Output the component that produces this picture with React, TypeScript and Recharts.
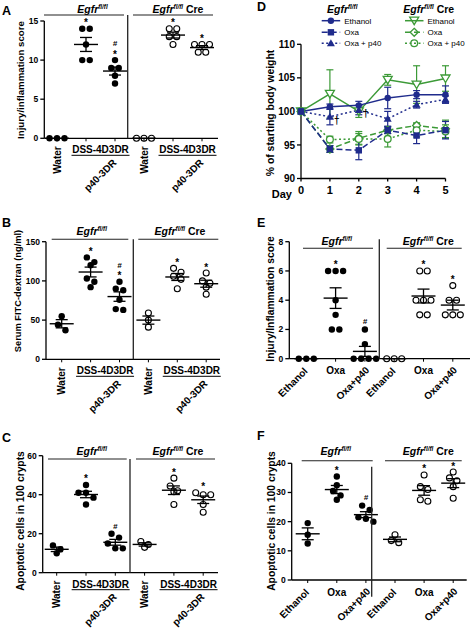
import React from 'react';
import {
  ScatterChart,
  Scatter,
  XAxis,
  YAxis,
  ErrorBar,
  ComposedChart,
  Line,
  LabelList,
} from 'recharts';

const FONT = '"Liberation Sans", Arial, Helvetica, sans-serif';
const INK = '#000';
const NAVY = '#1f2b8c';
const GREEN = '#3c9a37';

// ---------------- Panel A: injury score, DSS ----------------
const aFlWater = [0, 0, 0];
const aFlDss = [14, 14, 12, 10, 10];
const aFlP40 = [10, 9, 9, 8, 7];
const aCreWater = [0, 0, 0];
const aCreDss = [14, 14, 13, 13, 12];
const aCreP40 = [12, 12, 12, 11, 11];
const aMarks = [[], ['*'], ['*', '#'], [], ['*'], ['*']];
const aTicks = [0, 5, 10, 15];

// ---------------- Panel B: FITC-dextran ----------------
const bFlWater = [55, 44, 37];
const bFlDss = [130, 124, 120, 103, 99, 92];
const bFlP40 = [99, 90, 88, 76, 63, 64];
const bCreWater = [59, 50, 41];
const bCreDss = [116, 111, 106, 102, 90];
const bCreP40 = [110, 100, 97, 92, 83];
const bMarks = [[], ['*'], ['*', '#'], [], ['*'], ['*']];
const bTicks = [0, 50, 100, 150];

// ---------------- Panel C: apoptosis, DSS ----------------
const cFlWater = [14, 12, 10];
const cFlDss = [45, 41, 41, 38.5, 35];
const cFlP40 = [20, 18, 15, 12.5, 12.5];
const cCreWater = [16, 13, 14.5];
const cCreDss = [48.5, 44.5, 42, 41.5, 35];
const cCreP40 = [40, 41, 40, 35, 31];
const cMarks = [[], ['*'], ['#'], [], ['*'], ['*']];
const cTicks = [0, 20, 40, 60];

// ---------------- Panel D: body weight ----------------
const days = [0, 1, 2, 3, 4, 5];
const flEth = [100, 100.7, 100.9, 102, 102.5, 102.5];
const flEthErr = [0, 0.4, 0.6, 1.6, 0.6, 1.3];
const flOxa = [100, 94.4, 94.2, 97.2, 96.4, 97.2];
const flOxaErr = [0, 0.5, 1.4, 0.5, 1.2, 1.3];
const flOxaP40 = [100, 99.2, 100.2, 98.9, 101, 101.8];
const flOxaP40Err = [0, 1.2, 0.7, 1.1, 0.5, 0.5];
const creEth = [100, 102.6, 100, 104.7, 104, 104.9];
const creEthErr = [0, 3.6, 0.9, 0.8, 2.8, 1.9];
const creOxa = [100, 94.4, 96, 97.2, 97.9, 97.4];
const creOxaErr = [0, 0.5, 1.0, 0.5, 0.4, 1.3];
const creOxaP40 = [100, 95.8, 95.9, 95.9, 97.2, 97];
const creOxaP40Err = [0, 0.5, 0.8, 1.2, 1.0, 1.0];
const daggers = ['', '†', '†', '', '', ''];
const dTicks = [90, 95, 100, 105, 110];
const legendNames = ['Ethanol', 'Oxa', 'Oxa + p40'];

// ---------------- Panel E: injury score, Oxa ----------------
const eFlEth = [0, 0, 0];
const eFlOxa = [6, 6, 6, 4, 3, 2, 2];
const eFlOxaP40 = [2, 1, 0, 0, 0, 0];
const eCreEth = [0, 0, 0];
const eCreOxa = [6, 6, 4, 4, 4, 3, 3];
const eCreOxaP40 = [5, 4, 4, 3, 3, 3];
const eMarks = [[], ['*'], ['#'], [], ['*'], ['*']];
const eTicks = [0, 2, 4, 6, 8];

// ---------------- Panel F: apoptosis, Oxa ----------------
const fFlEth = [19.5, 15.5, 12.5];
const fFlOxa = [35.5, 32.5, 30.5, 29, 27.5];
const fFlOxaP40 = [25.5, 24, 21.5, 20, 21];
const fCreEth = [15.5, 13.5, 12.8];
const fCreOxa = [36, 32, 31, 27, 27.5];
const fCreOxaP40 = [37, 35, 34, 32, 28];
const fMarks = [[], ['*'], ['#'], [], ['*'], ['*']];
const fTicks = [0, 10, 20, 30, 40];

const dssLabels = ['Water', 'DSS-4D3DR', 'p40-3DR'];
const oxaLabels = ['Ethanol', 'Oxa', 'Oxa+p40'];
const groupTicks = [0, 1, 2, 3, 4, 5];

// ---------------- helpers ----------------
function layoutDots(groups: number[][], pxPerUnit: number, pxPerGroup: number) {
  const out: any[] = [];
  groups.forEach((vals, g) => {
    const sorted = [...vals].sort((a, b) => b - a);
    const clusters: number[][] = [];
    sorted.forEach((v) => {
      const last = clusters[clusters.length - 1];
      if (last && Math.abs(last[0] - v) * pxPerUnit < 5.5) last.push(v);
      else clusters.push([v]);
    });
    clusters.forEach((c) =>
      c.forEach((v, k) => {
        const off = ((k - (c.length - 1) / 2) * 7.5) / pxPerGroup;
        out.push({ x: g + off, y: v, open: g >= 3 });
      })
    );
  });
  return out;
}

function groupStats(groups: number[][]) {
  return groups.map((vals, g) => {
    const n = vals.length;
    const m = vals.reduce((s, v) => s + v, 0) / n;
    const sd = Math.sqrt(vals.reduce((s, v) => s + (v - m) * (v - m), 0) / (n - 1));
    return { x: g, y: m, err: sd / Math.sqrt(n) };
  });
}

const DotShape = (p: any) => {
  const { cx, cy, payload } = p;
  if (payload.open)
    return <circle cx={cx} cy={cy} r={3} fill="none" stroke={INK} strokeWidth={1.1} />;
  return <circle cx={cx} cy={cy} r={3.2} fill={INK} />;
};

const MeanShape = (p: any) => {
  const { cx, cy } = p;
  return <line x1={cx - 12} x2={cx + 12} y1={cy} y2={cy} stroke={INK} strokeWidth={1.4} />;
};

const AnnShape = (p: any) => {
  const { cx, cy, payload } = p;
  return (
    <g>
      {payload.marks.map((m: string, i: number) => {
        const c = 8 + 8.5 * i;
        const star = m === '*';
        return (
          <text
            key={i}
            x={cx}
            y={cy - c + (star ? 5.5 : 2.8)}
            textAnchor="middle"
            fontFamily={FONT}
            fontWeight={700}
            fontSize={star ? 10 : 8}
            fontStyle={star ? 'normal' : 'italic'}
            style={{ fill: INK }}
          >
            {m}
          </text>
        );
      })}
    </g>
  );
};

const lblStyle = { fontFamily: FONT, fontWeight: 700, fontSize: 10, fill: INK };

const DssTick = (props: any) => {
  const { x, y, payload, sp } = props;
  const y0 = y - 3;
  const i = Math.round(payload.value) % 3;
  if (i === 0)
    return (
      <text transform={`translate(${x + 3.5},${y0 + 8}) rotate(-90)`} textAnchor="end" style={lblStyle}>
        {dssLabels[0]}
      </text>
    );
  if (i === 1) {
    const cx = x + sp / 2;
    return (
      <g>
        <text x={cx} y={y0 + 15} textAnchor="middle" style={lblStyle}>
          {dssLabels[1]}
        </text>
        <line x1={cx - 29} x2={cx + 29} y1={y0 + 17} y2={y0 + 17} stroke={INK} strokeWidth={1} />
      </g>
    );
  }
  return (
    <text transform={`translate(${x + 2},${y0 + 25}) rotate(-45)`} textAnchor="end" style={lblStyle}>
      {dssLabels[2]}
    </text>
  );
};

const OxaTick = (props: any) => {
  const { x, y, payload } = props;
  const y0 = y - 3;
  const i = Math.round(payload.value) % 3;
  if (i === 1)
    return (
      <text x={x} y={y0 + 15.5} textAnchor="middle" style={lblStyle}>
        {oxaLabels[1]}
      </text>
    );
  const dx = i === 0 ? 2 : 5;
  const dy = i === 0 ? 13 : 12;
  return (
    <text transform={`translate(${x + dx},${y0 + dy}) rotate(-45)`} textAnchor="end" style={lblStyle}>
      {oxaLabels[i]}
    </text>
  );
};

type Box = { left: number; top: number; width: number; height: number };
type Plot = { left: number; right: number; top: number; bottom: number };
type DotCfg = {
  box: Box;
  plot: Plot;
  yDomain: [number, number];
  yTicks: number[];
  g0: number;
  dx: number;
  groups: number[][];
  marks: string[][];
  kind: 'dss' | 'oxa';
};

function DotPanel({ cfg }: { cfg: DotCfg }) {
  const { box, plot, yDomain, yTicks, g0, dx, groups, marks, kind } = cfg;
  const pxPerUnit = (plot.bottom - plot.top) / (yDomain[1] - yDomain[0]);
  const dots = layoutDots(groups, pxPerUnit, dx);
  const means = groupStats(groups);
  const ann = groups
    .map((v, g) => ({ x: g, y: Math.max(...v), marks: marks[g] }))
    .filter((a) => a.marks.length > 0);
  const xDomain: [number, number] = [(plot.left - g0) / dx, (plot.right - g0) / dx];
  return (
    <div style={{ position: 'absolute', left: box.left, top: box.top }}>
      <ScatterChart
        width={box.width}
        height={box.height}
        margin={{ top: plot.top - box.top, right: box.left + box.width - plot.right, bottom: 0, left: 0 }}
      >
        <XAxis
          type="number"
          dataKey="x"
          domain={xDomain}
          ticks={groupTicks}
          interval={0}
          height={box.top + box.height - plot.bottom}
          tickSize={3}
          tickMargin={0}
          axisLine={{ stroke: INK, strokeWidth: 1.3 }}
          tickLine={{ stroke: INK, strokeWidth: 1 }}
          tick={kind === 'dss' ? <DssTick sp={dx} /> : <OxaTick />}
        />
        <YAxis
          type="number"
          dataKey="y"
          domain={yDomain}
          ticks={yTicks}
          interval={0}
          width={plot.left - box.left}
          tickSize={4}
          tickMargin={2}
          axisLine={{ stroke: INK, strokeWidth: 1.3 }}
          tickLine={{ stroke: INK, strokeWidth: 1.3 }}
          tick={{ fontSize: 8.5, fontWeight: 700, fill: INK, fontFamily: FONT }}
        />
        <Scatter data={dots} shape={DotShape} isAnimationActive={false} />
        <Scatter data={means} shape={MeanShape} isAnimationActive={false}>
          <ErrorBar dataKey="err" direction="y" width={6} stroke={INK} strokeWidth={1.3} />
        </Scatter>
        <Scatter data={ann} shape={AnnShape} isAnimationActive={false} />
      </ScatterChart>
    </div>
  );
}

const panelA: DotCfg = {
  box: { left: 0, top: 0, width: 236, height: 205 },
  plot: { left: 44.3, right: 218, top: 21, bottom: 138.3 },
  yDomain: [0, 15],
  yTicks: aTicks,
  g0: 57,
  dx: 29,
  groups: [aFlWater, aFlDss, aFlP40, aCreWater, aCreDss, aCreP40],
  marks: aMarks,
  kind: 'dss',
};
const panelB: DotCfg = {
  box: { left: 0, top: 205, width: 236, height: 215 },
  plot: { left: 46, right: 220, top: 241.7, bottom: 359.3 },
  yDomain: [0, 150],
  yTicks: bTicks,
  g0: 61.7,
  dx: 28.9,
  groups: [bFlWater, bFlDss, bFlP40, bCreWater, bCreDss, bCreP40],
  marks: bMarks,
  kind: 'dss',
};
const panelC: DotCfg = {
  box: { left: 0, top: 420, width: 236, height: 209 },
  plot: { left: 42.7, right: 218, top: 455.7, bottom: 572.7 },
  yDomain: [0, 60],
  yTicks: cTicks,
  g0: 56.7,
  dx: 29.3,
  groups: [cFlWater, cFlDss, cFlP40, cCreWater, cCreDss, cCreP40],
  marks: cMarks,
  kind: 'dss',
};
const panelE: DotCfg = {
  box: { left: 236, top: 205, width: 237, height: 215 },
  plot: { left: 289.3, right: 470, top: 241.7, bottom: 358.7 },
  yDomain: [0, 8],
  yTicks: eTicks,
  g0: 306.3,
  dx: 29.3,
  groups: [eFlEth, eFlOxa, eFlOxaP40, eCreEth, eCreOxa, eCreOxaP40],
  marks: eMarks,
  kind: 'oxa',
};
const panelF: DotCfg = {
  box: { left: 236, top: 420, width: 237, height: 209 },
  plot: { left: 291.7, right: 466.7, top: 463.3, bottom: 580 },
  yDomain: [0, 40],
  yTicks: fTicks,
  g0: 307.7,
  dx: 29.1,
  groups: [fFlEth, fFlOxa, fFlOxaP40, fCreEth, fCreOxa, fCreOxaP40],
  marks: fMarks,
  kind: 'oxa',
};

// ---------------- Panel D chart ----------------
function Marker({ kind, color, cx, cy, fill }: any) {
  switch (kind) {
    case 'circle':
      return <circle cx={cx} cy={cy} r={3.2} fill={color} />;
    case 'square':
      return <rect x={cx - 3.2} y={cy - 3.2} width={6.4} height={6.4} fill={color} />;
    case 'triUp':
      return <polygon points={`${cx},${cy - 4} ${cx - 4},${cy + 3} ${cx + 4},${cy + 3}`} fill={color} />;
    case 'triDown':
      return (
        <polygon
          points={`${cx - 4.5},${cy - 3.5} ${cx + 4.5},${cy - 3.5} ${cx},${cy + 4}`}
          fill={fill}
          stroke={color}
          strokeWidth={1.3}
        />
      );
    case 'diamond':
      return (
        <polygon
          points={`${cx},${cy - 4} ${cx + 4},${cy} ${cx},${cy + 4} ${cx - 4},${cy}`}
          fill={fill}
          stroke={color}
          strokeWidth={1.3}
        />
      );
    default:
      return <circle cx={cx} cy={cy} r={3.4} fill={fill} stroke={color} strokeWidth={1.3} />;
  }
}

const dSeries = [
  { key: 'creEth', color: GREEN, dash: undefined, kind: 'triDown' },
  { key: 'creOxa', color: GREEN, dash: '6 3', kind: 'diamond' },
  { key: 'creOxaP40', color: GREEN, dash: '2 2.5', kind: 'openCircle' },
  { key: 'flEth', color: NAVY, dash: undefined, kind: 'circle' },
  { key: 'flOxa', color: NAVY, dash: '6 3', kind: 'square' },
  { key: 'flOxaP40', color: NAVY, dash: '2 2.5', kind: 'triUp' },
];

const dTable = days.map((d, i) => ({
  day: d,
  flEth: flEth[i],
  flEthE: flEthErr[i],
  flOxa: flOxa[i],
  flOxaE: flOxaErr[i],
  flOxaP40: flOxaP40[i],
  flOxaP40E: flOxaP40Err[i],
  creEth: creEth[i],
  creEthE: creEthErr[i],
  creOxa: creOxa[i],
  creOxaE: creOxaErr[i],
  creOxaP40: creOxaP40[i],
  creOxaP40E: creOxaP40Err[i],
  dag: daggers[i],
}));

const DaggerLabel = (p: any) => {
  const { x, y, value } = p;
  if (!value) return null;
  return (
    <text
      x={x + 7}
      y={y + 7}
      textAnchor="middle"
      fontFamily={FONT}
      fontWeight={700}
      fontSize={10}
      style={{ fill: INK, stroke: 'none' }}
    >
      {value}
    </text>
  );
};

function PanelD() {
  return (
    <div style={{ position: 'absolute', left: 240, top: 0 }}>
      <ComposedChart
        width={233}
        height={205}
        data={dTable}
        margin={{ top: 44.3, right: 473 - 445.5, bottom: 0, left: 0 }}
      >
        <XAxis
          type="number"
          dataKey="day"
          domain={[0, 5]}
          ticks={days}
          interval={0}
          height={205 - 178.5}
          tickSize={3}
          tickMargin={5}
          axisLine={{ stroke: INK, strokeWidth: 1.3 }}
          tickLine={{ stroke: INK, strokeWidth: 1.3 }}
          tick={{ fontSize: 11, fontWeight: 700, fill: INK, fontFamily: FONT }}
        />
        <YAxis
          type="number"
          domain={[90, 110]}
          ticks={dTicks}
          interval={0}
          width={61}
          tickSize={4}
          tickMargin={2}
          axisLine={{ stroke: INK, strokeWidth: 1.3 }}
          tickLine={{ stroke: INK, strokeWidth: 1.3 }}
          tick={{ fontSize: 10, fontWeight: 700, fill: INK, fontFamily: FONT }}
        />
        {dSeries.map((s) => (
          <Line
            key={s.key}
            type="linear"
            dataKey={s.key}
            stroke={s.color}
            strokeWidth={1.5}
            strokeDasharray={s.dash}
            isAnimationActive={false}
            activeDot={false}
            dot={(p: any) => (
              <Marker key={`${s.key}-${p.index}`} kind={s.kind} color={s.color} cx={p.cx} cy={p.cy} fill="#fff" />
            )}
          >
            <ErrorBar dataKey={`${s.key}E`} direction="y" width={3.5} stroke={s.color} strokeWidth={1.2} />
            {s.key === 'flOxaP40' ? <LabelList dataKey="dag" content={DaggerLabel} /> : null}
          </Line>
        ))}
      </ComposedChart>
    </div>
  );
}

// ---------------- overlay text ----------------
function Hdr({ x, y, cre, anchor = 'middle', size = 10.5 }: any) {
  return (
    <text x={x} y={y} textAnchor={anchor} fontFamily={FONT} fontWeight={700} fontSize={size} fill={INK}>
      <tspan fontStyle="italic">Egfr</tspan>
      <tspan fontStyle="italic" fontSize={size * 0.6} dy={-size * 0.38}>
        fl/fl
      </tspan>
      <tspan dy={size * 0.38}>{cre ? ' Cre' : ''}</tspan>
    </text>
  );
}

function YLab({ x, y, size, children }: any) {
  return (
    <text
      transform={`translate(${x},${y}) rotate(-90)`}
      textAnchor="middle"
      dominantBaseline="central"
      fontFamily={FONT}
      fontWeight={700}
      fontSize={size}
      fill={INK}
    >
      {children}
    </text>
  );
}

function Letter({ x, y, children }: any) {
  return (
    <text x={x} y={y} fontFamily={FONT} fontWeight={700} fontSize={12.5} fill={INK}>
      {children}
    </text>
  );
}

const LINE_GREY = '#222';

function Bracket({ x1, x2, y }: any) {
  return <line x1={x1} x2={x2} y1={y} y2={y} stroke={LINE_GREY} strokeWidth={1.1} />;
}
function Divider({ x, y1, y2 }: any) {
  return <line x1={x} x2={x} y1={y1} y2={y2} stroke={LINE_GREY} strokeWidth={1.3} />;
}

function LegendRow({ x, y, s, name }: any) {
  return (
    <g>
      <line x1={x} x2={x + 18.5} y1={y} y2={y} stroke={s.color} strokeWidth={1.5} strokeDasharray={s.dash} />
      <Marker kind={s.kind} color={s.color} cx={x + 9.2} cy={y} fill="none" />
      <text x={x + 22.5} y={y + 3} fontFamily={FONT} fontSize={8} fill={INK}>
        {name}
      </text>
    </g>
  );
}

function Overlay() {
  const navy = dSeries.slice(3);
  const green = dSeries.slice(0, 3);
  const rowsY = [20.7, 32.3, 43.3];
  return (
    <svg
      width={473}
      height={629}
      style={{ position: 'absolute', left: 0, top: 0, pointerEvents: 'none' }}
    >
      <Letter x={2} y={15}>A</Letter>
      <Letter x={2} y={227}>B</Letter>
      <Letter x={2} y={442}>C</Letter>
      <Letter x={257} y={10.5}>D</Letter>
      <Letter x={257} y={227}>E</Letter>
      <Letter x={257} y={439.5}>F</Letter>

      {/* A */}
      <Hdr x={92.5} y={12.5} />
      <Hdr x={178} y={12.5} cre />
      <Bracket x1={44} x2={124} y={15} />
      <Bracket x1={133} x2={213} y={15} />
      <Divider x={127.7} y1={15} y2={138.3} />
      <YLab x={20} y={80} size={9.7}>Injury/inflammation score</YLab>

      {/* B */}
      <Hdr x={91.7} y={235} />
      <Hdr x={180} y={235} cre />
      <Bracket x1={51.7} x2={128.3} y={239.3} />
      <Bracket x1={138.3} x2={218.3} y={239.3} />
      <Divider x={133.3} y1={239.3} y2={359.3} />
      <YLab x={18.3} y={291} size={9.3}>Serum FITC-dextran (ng/ml)</YLab>

      {/* C */}
      <Hdr x={91.7} y={455} />
      <Hdr x={178} y={455} cre />
      <Bracket x1={48} x2={126.7} y={459} />
      <Bracket x1={136} x2={215} y={459} />
      <Divider x={130} y1={459} y2={572.7} />
      <YLab x={20} y={521} size={10.3}>Apoptotic cells in 100 crypts</YLab>

      {/* D */}
      <Hdr x={327} y={12.5} anchor="start" />
      <Hdr x={403.3} y={12.5} anchor="start" cre />
      {navy.map((s, i) => (
        <LegendRow key={s.key} x={321.7} y={rowsY[i]} s={s} name={legendNames[i]} />
      ))}
      {green.map((s, i) => (
        <LegendRow key={s.key} x={405} y={rowsY[i]} s={s} name={legendNames[i]} />
      ))}
      <YLab x={270} y={113} size={10.4}>% of starting body weight</YLab>
      <text x={271.7} y={197.5} fontFamily={FONT} fontWeight={700} fontSize={11} fill={INK}>
        Day
      </text>

      {/* E */}
      <Hdr x={336.7} y={244.5} />
      <Hdr x={428.3} y={244.5} cre />
      <Bracket x1={303} x2={373} y={248.3} />
      <Bracket x1={386.7} x2={461.7} y={248.3} />
      <Divider x={379.3} y1={239.3} y2={358.7} />
      <YLab x={270} y={299} size={10.3}>Injury/Inflammation score</YLab>

      {/* F */}
      <Hdr x={335.7} y={455} />
      <Hdr x={428.3} y={455} cre />
      <Bracket x1={301.7} x2={372.7} y={460.7} />
      <Bracket x1={385} x2={461.7} y={460.7} />
      <Divider x={371.7} y1={466.7} y2={596.7} />
      <YLab x={271.7} y={521} size={10.3}>Apoptotic cells in 100 crypts</YLab>
    </svg>
  );
}

export default function App() {
  return (
    <div
      style={{
        position: 'absolute',
        left: 0,
        top: 0,
        width: 473,
        height: 629,
        background: '#fff',
        overflow: 'hidden',
        fontFamily: FONT,
      }}
    >
      <DotPanel cfg={panelA} />
      <DotPanel cfg={panelB} />
      <DotPanel cfg={panelC} />
      <PanelD />
      <DotPanel cfg={panelE} />
      <DotPanel cfg={panelF} />
      <Overlay />
    </div>
  );
}
